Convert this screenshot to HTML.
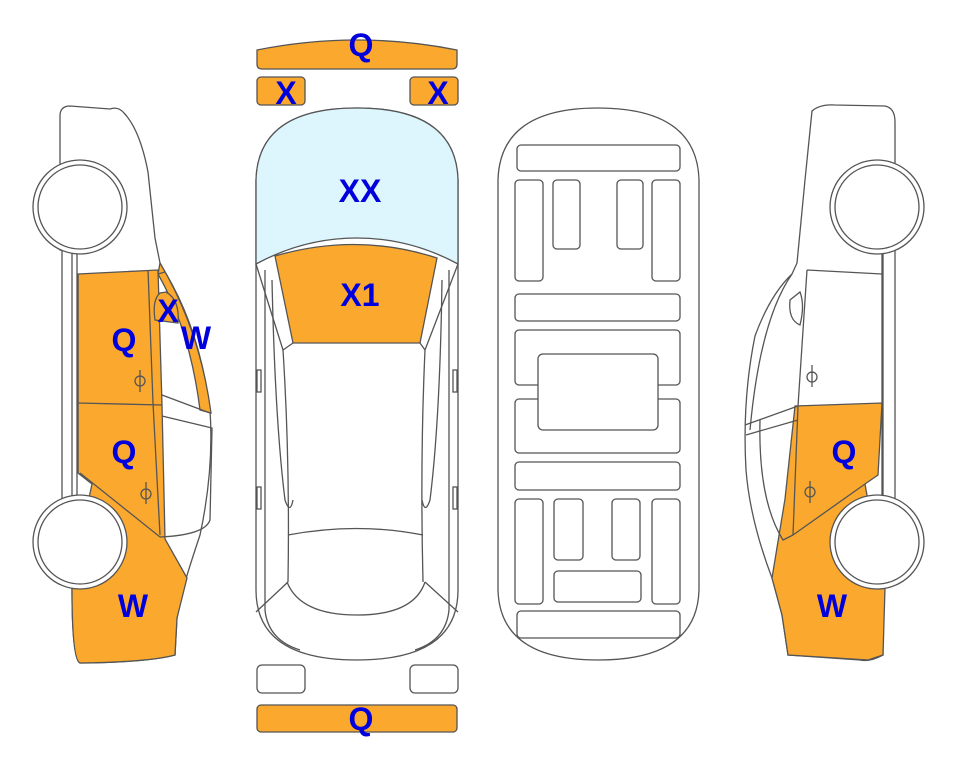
<!DOCTYPE html>
<html><head><style>
body{margin:0;background:#fff;width:963px;height:768px;overflow:hidden}
svg text{font-family:"Liberation Sans",Arial,sans-serif;font-weight:bold;fill:#0000dd;text-anchor:middle}
</style></head><body>
<svg width="963" height="768" viewBox="0 0 963 768" xmlns="http://www.w3.org/2000/svg">
<g stroke="#555" stroke-width="1.3" fill="none">
<path d="M257,50 Q357,30 457,50 L457,64 Q457,69 452,69 L262,69 Q257,69 257,64 Z" fill="#fba92e"/>
<rect x="257" y="77" width="48" height="28" rx="4" fill="#fba92e"/>
<rect x="410" y="77" width="48" height="28" rx="4" fill="#fba92e"/>
<rect x="257" y="665" width="48" height="28" rx="5" fill="#fff"/>
<rect x="410" y="665" width="48" height="28" rx="5" fill="#fff"/>
<rect x="257" y="705" width="200" height="27" rx="4" fill="#fba92e"/>

<path d="M256,262 L256,180 Q258,108 357,108 Q456,108 458,180 L458,590 Q458,660 357,660 Q256,660 256,590 Z" fill="#fff"/>
<path d="M256,264 L256,180 Q258,108 357,108 Q456,108 458,180 L458,264 Q410,238 357,238 Q304,238 256,264 Z" fill="#ddf6fd"/>
<path d="M275,256 Q357,232 437,258 L420,343 L293,343 Z" fill="#fba92e"/>
<path d="M256,264 L283,350 M458,264 L425,350 M293,343 L283,350 M420,343 L425,350"/>
<path d="M283,350 Q290,460 288,582 M425,350 Q420,460 423,582"/>
<path d="M288,535 Q357,522 423,535"/>
<path d="M287,582 Q300,615 357,615 Q414,615 425,582"/>
<path d="M265,270 L265,610 Q268,640 300,650 M449,270 L449,610 Q446,640 415,650"/>
<path d="M272,280 Q275,420 285,500 Q290,515 293,500 M442,280 Q440,420 430,500 Q425,515 422,500"/>
<path d="M256,612 L288,582 M458,612 L425,582"/>
<rect x="257" y="370" width="4" height="22" fill="#fff"/><rect x="453" y="370" width="4" height="22" fill="#fff"/>
<rect x="257" y="487" width="4" height="22" fill="#fff"/><rect x="453" y="487" width="4" height="22" fill="#fff"/>

<path d="M498,180 Q500,108 598,108 Q697,108 699,180 L699,590 Q697,660 598,660 Q500,660 498,590 Z" fill="#fff"/>
<rect x="517" y="145" width="163" height="26" rx="4"/>
<rect x="515" y="180" width="28" height="101" rx="4"/>
<rect x="553" y="180" width="27" height="69" rx="4"/>
<rect x="617" y="180" width="26" height="69" rx="4"/>
<rect x="652" y="180" width="28" height="101" rx="4"/>
<rect x="515" y="294" width="165" height="27" rx="4"/>
<rect x="515" y="330" width="165" height="55" rx="4"/>
<rect x="515" y="399" width="165" height="54" rx="4"/>
<rect x="538" y="354" width="120" height="76" rx="5" fill="#fff"/>
<rect x="515" y="462" width="165" height="28" rx="4"/>
<rect x="515" y="499" width="28" height="105" rx="4"/>
<rect x="554" y="499" width="29" height="61" rx="4"/>
<rect x="612" y="499" width="28" height="61" rx="4"/>
<rect x="652" y="499" width="28" height="105" rx="4"/>
<rect x="554" y="571" width="87" height="31" rx="4"/>
<rect x="517" y="611" width="163" height="27" rx="4"/>

<path d="M60,116 Q60,106 70,106 L110,109 Q118,106 124,113 Q140,130 148,172 L155,238 L160,263 L165,272 Q200,330 210,410 Q214,470 200,535 Q190,565 185,582 L177,618 L175,655 Q150,662 80,663 Q72,660 72,588 L72,250 L60,250 Z" fill="#fff"/>
<path d="M78,274 L158,270 L162,405 L165,539 L187,578 L177,618 L175,655 Q150,662 80,663 Q72,660 72,588 L80,540 L92,484 L78,473 Z" fill="#fba92e"/>
<path d="M160,263 Q200,330 211,413 L200,410 Q190,330 158,274 Z" fill="#fba92e"/>
<path d="M160,293 Q152,300 155,320 L178,323 Q180,300 166,292 Z" fill="#fba92e"/>
<path d="M165,272 L158,274 M148,270 L153,403 L160,535 M78,403 L162,405 M80,473 L160,537 M162,395 L210,413 M162,416 L212,428 L210,520 Q205,535 160,537"/>
<path d="M62,165 L62,500 M77,250 L77,500 M78,274 L78,473 M60,250 L62,250"/>
<path d="M140,370 v22 M135,381 a5,5 0 0 0 10,0 a5,5 0 0 0 -10,0 M146,482 v22 M141,494 a5,5 0 0 0 10,0 a5,5 0 0 0 -10,0"/>
<circle cx="80" cy="207" r="47" fill="#fff"/><circle cx="80" cy="207" r="42" fill="#fff"/>
<circle cx="80" cy="542" r="47" fill="#fff"/><circle cx="80" cy="542" r="42" fill="#fff"/>

<path d="M812,111 Q820,104 835,105 L885,106 Q895,108 895,122 L895,250 L883,250 L883,588 L883,655 Q870,662 860,660 L788,655 L782,615 L772,578 Q750,520 746,470 Q742,400 755,336 Q770,295 792,274 L797,263 L805,180 Z" fill="#fff"/>
<path d="M795,406 L882,403 L878,475 L865,484 L875,540 L885,588 L883,655 L868,660 L788,655 L782,615 L772,578 L785,499 Z" fill="#fba92e"/>
<path d="M807,270 L882,274 M807,270 L798,406 L793,535 M865,484 L793,535 M745,425 L798,406 M746,435 L798,420 M760,420 Q758,500 783,540 L793,535 M792,274 Q760,320 750,430"/>
<path d="M882,250 L882,500 M895,165 L895,500"/>
<path d="M790,300 Q788,320 800,325 Q805,305 800,292 Z"/>
<path d="M812,365 v22 M807,377 a5,5 0 0 0 10,0 a5,5 0 0 0 -10,0 M810,481 v22 M805,492 a5,5 0 0 0 10,0 a5,5 0 0 0 -10,0"/>
<circle cx="877" cy="207" r="47" fill="#fff"/><circle cx="877" cy="207" r="42" fill="#fff"/>
<circle cx="877" cy="542" r="47" fill="#fff"/><circle cx="877" cy="542" r="42" fill="#fff"/>
</g>
<g font-size="32">
<text x="361" y="56">Q</text>
<text x="286" y="104">X</text>
<text x="438" y="104">X</text>
<text x="360" y="202">XX</text>
<text x="360" y="306">X1</text>
<text x="124" y="351">Q</text>
<text x="168" y="322">X</text>
<text x="196" y="349">W</text>
<text x="124" y="463">Q</text>
<text x="133" y="617">W</text>
<text x="844" y="463">Q</text>
<text x="832" y="617">W</text>
<text x="361" y="730">Q</text>
</g>
</svg>
</body></html>
